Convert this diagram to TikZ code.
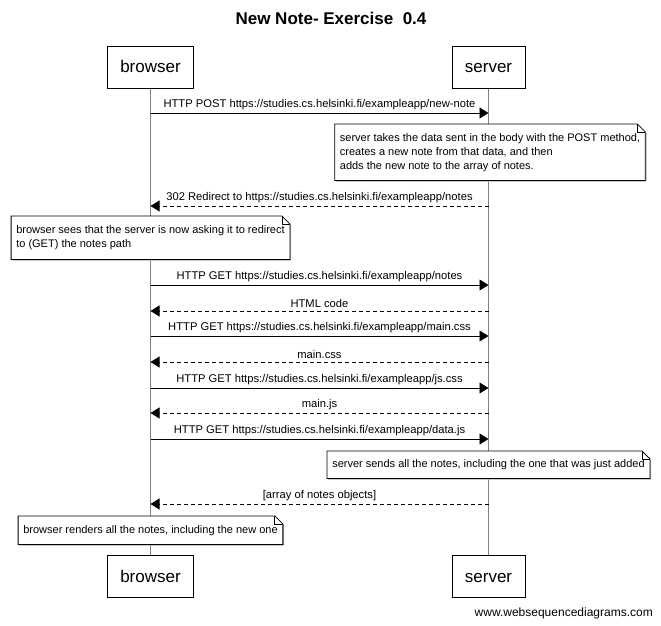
\documentclass[tikz,border=0pt]{standalone}
\usepackage{fontspec}
\setmainfont{Liberation Sans}
\usetikzlibrary{arrows.meta,calc}
\pgfdeclarelayer{bg}
\pgfdeclarelayer{paper}
\pgfsetlayers{paper,bg,main}
\tikzset{
  actor/.style={draw=black, line width=0.9pt, minimum height=42pt, inner sep=0pt, fill=white, text height=12pt, text depth=0pt, font=\fontsize{17}{20}\selectfont},
  life/.style={draw=black!50, line width=1.1pt},
  msg/.style={draw=black, line width=0.8pt, -{Triangle[length=9pt,width=11pt]}},
  reply/.style={msg, dash pattern=on 4pt off 3pt},
  lbl/.style={font=\fontsize{11.2}{13}\selectfont, inner sep=0pt, anchor=south, yshift=3pt},
  notetext/.style={font=\fontsize{11}{14}\selectfont, align=left, inner xsep=5pt, inner ysep=0pt, anchor=north},
  noteline/.style={draw=black, line width=0.8pt, fill=white},
  noteshadow/.style={fill=black!30, draw=none},
}
\newcommand\drawnote[1]{%
  \begin{pgfonlayer}{bg}
  \fill[noteshadow] ($(#1.north west)+(1.2,1.2)$) -- ($(#1.north east)+(1.2,9.2)$) -- ($(#1.south east)+(1.2,1.2)$) -- ($(#1.south west)+(1.2,1.2)$) -- cycle;
  \draw[noteline] (#1.north west) -- ($(#1.north east)+(-8,0)$) -- ($(#1.north east)+(0,8)$) -- (#1.south east) -- (#1.south west) -- cycle;
  \draw[noteline, fill=none] ($(#1.north east)+(-8,0)$) |- ($(#1.north east)+(0,8)$);
  \end{pgfonlayer}}
\begin{document}
\begin{tikzpicture}[x=1pt,y=-1pt]
\begin{pgfonlayer}{paper}
\fill[white] (0,0) rectangle (661,626);
\end{pgfonlayer}
\useasboundingbox (0,0) rectangle (661,626);
% title
\node[font=\bfseries\fontsize{17}{20}\selectfont, anchor=base] (title) at (331,25) {New Note- Exercise\ \ 0.4};
% participants
\node[actor, minimum width=86pt] (b1) at (150.5,67) {browser};
\node[actor, minimum width=73pt] (s1) at (488.5,67) {server};
\node[actor, minimum width=86pt] (b2) at (150.5,576) {browser};
\node[actor, minimum width=73pt] (s2) at (488.5,576) {server};
\begin{pgfonlayer}{bg}
\draw[life] (b1.south) -- (b2.north);
\draw[life] (s1.south) -- (s2.north);
\end{pgfonlayer}
% message end points
\foreach \n/\y in {1/113,2/206,3/285,4/311,5/336,6/362,7/388,8/413,9/439,10/504}{
  \coordinate (b\n) at (150.5,\y);
  \coordinate (s\n) at (488.5,\y);
}
\draw[msg] (b1) -- node[lbl]{HTTP POST https://studies.cs.helsinki.fi/exampleapp/new-note} (s1);
\draw[reply] (s2) -- node[lbl]{302 Redirect to https://studies.cs.helsinki.fi/exampleapp/notes} (b2);
\draw[msg] (b3) -- node[lbl]{HTTP GET https://studies.cs.helsinki.fi/exampleapp/notes} (s3);
\draw[reply] (s4) -- node[lbl]{HTML code} (b4);
\draw[msg] (b5) -- node[lbl]{HTTP GET https://studies.cs.helsinki.fi/exampleapp/main.css} (s5);
\draw[reply] (s6) -- node[lbl]{main.css} (b6);
\draw[msg] (b7) -- node[lbl]{HTTP GET https://studies.cs.helsinki.fi/exampleapp/js.css} (s7);
\draw[reply] (s8) -- node[lbl]{main.js} (b8);
\draw[msg] (b9) -- node[lbl]{HTTP GET https://studies.cs.helsinki.fi/exampleapp/data.js} (s9);
\draw[reply] (s10) -- node[lbl]{[array of notes objects]} (b10);
% notes
\node[notetext, minimum height=56pt] (n1) at (490,124)
  {server takes the data sent in the body with the POST method,\\creates a new note from that data, and then\\adds the new note to the array of notes.};
\drawnote{n1}
\node[notetext, minimum height=43pt] (n2) at (150.5,216)
  {browser sees that the server is now asking it to redirect\\to (GET) the notes path};
\drawnote{n2}
\node[notetext, minimum height=27pt] (n3) at (488.5,451)
  {server sends all the notes, including the one that was just added};
\drawnote{n3}
\node[notetext, minimum height=28pt] (n4) at (150.5,516)
  {browser renders all the notes, including the new one};
\drawnote{n4}
% footer
\node[font=\fontsize{12}{14}\selectfont, anchor=base east, inner sep=0pt] (foot) at (653,616) {www.websequencediagrams.com};
\end{tikzpicture}
\end{document}
